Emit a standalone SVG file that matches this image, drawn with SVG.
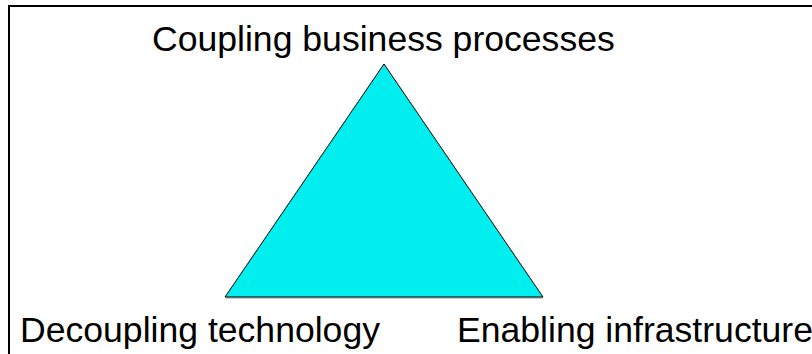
<svg xmlns="http://www.w3.org/2000/svg" width="812" height="354" viewBox="0 0 812 354">
<style>
.lbl{font-family:"Liberation Sans",Arial,sans-serif;font-size:35.6px;fill:#000}
.frame{stroke:#000;stroke-width:2;fill:none}
.tri{fill:#00EEEE;stroke:#000;stroke-width:1}
</style>
<rect width="812" height="354" fill="#fff"/>
<g id="frame">
<path class="frame" d="M9,354 V6 H812"/>
</g>
<g id="triangle">
<line x1="226" y1="298" x2="543" y2="298" stroke="#999" stroke-width="1"/>
<polygon class="tri" points="384,64 225,297 543,297"/>
</g>
<g id="label-top"><text class="lbl" x="152" y="51">Coupling business processes</text></g>
<g id="label-left"><text class="lbl" x="20" y="342">Decoupling technology</text></g>
<g id="label-right"><text class="lbl" x="457" y="342">Enabling infrastructure</text></g>
<g id="connectors"/>
</svg>
